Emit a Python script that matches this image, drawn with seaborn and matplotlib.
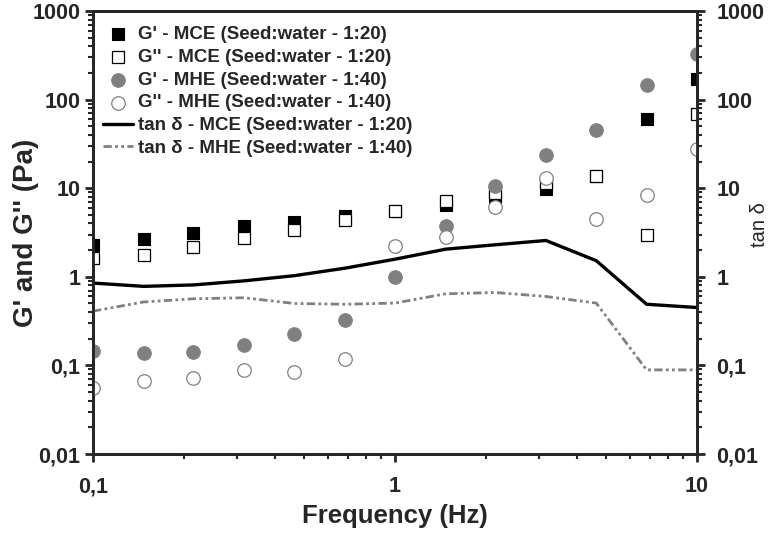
import numpy as np
import pandas as pd
import matplotlib
matplotlib.use("Agg")
import matplotlib.pyplot as plt
import seaborn as sns
from matplotlib.ticker import FixedLocator, FixedFormatter, NullFormatter, LogLocator

# frequency points (Hz)
freq = [0.1, 0.147, 0.215, 0.316, 0.464, 0.681, 1.0, 1.47, 2.15, 3.16, 4.64, 6.81, 10.0]

# moduli (Pa)
g1_mce = [2.3, 2.7, 3.1, 3.7, 4.2, 4.8, 5.5, 6.5, 7.9, 9.8, 13.6, 61, 171]
g2_mce = [1.63, 1.76, 2.16, 2.73, 3.39, 4.4, 5.56, 7.26, 8.8, 11.4, 13.6, 3.0, 68.6]
g1_mhe = [0.144, 0.138, 0.141, 0.171, 0.229, 0.327, 1.0, 3.7, 10.6, 23.8, 45.6, 148, 324]
g2_mhe = [0.0554, 0.0659, 0.0724, 0.0877, 0.0837, 0.119, 2.2, 2.78, 6.2, 13.0, 4.48, 8.3, 27.9]

# loss tangent
tan_mce = [0.85, 0.78, 0.81, 0.90, 1.03, 1.25, 1.58, 2.05, 2.3, 2.57, 1.52, 0.49, 0.45]
tan_mhe = [0.41, 0.52, 0.565, 0.58, 0.50, 0.49, 0.505, 0.643, 0.665, 0.60, 0.505, 0.089, 0.089]

labels = ["G' - MCE (Seed:water - 1:20)",
          "G'' - MCE (Seed:water - 1:20)",
          "G' - MHE (Seed:water - 1:40)",
          "G'' - MHE (Seed:water - 1:40)",
          "tan \u03b4 - MCE (Seed:water - 1:20)",
          "tan \u03b4 - MHE (Seed:water - 1:40)"]

x_ticks = [0.1, 1, 10]
x_tick_labels = ["0,1", "1", "10"]
y_ticks = [0.01, 0.1, 1, 10, 100, 1000]
y_tick_labels = ["0,01", "0,1", "1", "10", "100", "1000"]

sns.set_style("ticks")
plt.rcParams['font.family'] = ['Liberation Sans', 'DejaVu Sans']
plt.rcParams['axes.linewidth'] = 2.0

df = pd.DataFrame({'freq': freq, 'g1_mce': g1_mce, 'g2_mce': g2_mce,
                   'g1_mhe': g1_mhe, 'g2_mhe': g2_mhe,
                   'tan_mce': tan_mce, 'tan_mhe': tan_mhe})

fig, ax = plt.subplots(figsize=(7.74, 5.35), dpi=100)
fig.subplots_adjust(left=0.1202, right=0.9005, top=0.9794, bottom=0.1514)
ax2 = ax.twinx()

grey = '#808080'
sns.scatterplot(data=df, x='freq', y='g1_mce', ax=ax, marker='s', s=80,
                color='black', edgecolor='black', linewidth=0.8, label=labels[0], zorder=3)
sns.scatterplot(data=df, x='freq', y='g2_mce', ax=ax, marker='s', s=80,
                facecolor='white', edgecolor='black', linewidth=0.9, label=labels[1], zorder=4)
sns.scatterplot(data=df, x='freq', y='g1_mhe', ax=ax, marker='o', s=95,
                color=grey, edgecolor=grey, linewidth=0.8, label=labels[2], zorder=5)
sns.scatterplot(data=df, x='freq', y='g2_mhe', ax=ax, marker='o', s=95,
                facecolor='white', edgecolor=grey, linewidth=0.9, label=labels[3], zorder=6)

sns.lineplot(data=df, x='freq', y='tan_mce', ax=ax2, color='black', linewidth=2.4,
             label=labels[4])
sns.lineplot(data=df, x='freq', y='tan_mhe', ax=ax2, color=grey, linewidth=2.0,
             linestyle=(0, (3, 1.2, 1, 1.2, 1, 1.2)), label=labels[5])

for a in (ax, ax2):
    a.set_xscale('log')
    a.set_yscale('log')
    a.set_xlim(0.1, 10)
    a.set_ylim(0.01, 1000)
    a.yaxis.set_major_locator(FixedLocator(y_ticks))
    a.yaxis.set_major_formatter(FixedFormatter(y_tick_labels))
    a.yaxis.set_minor_locator(LogLocator(base=10, subs=np.arange(2, 10)))
    a.yaxis.set_minor_formatter(NullFormatter())
    a.tick_params(which='major', direction='out', length=6, width=2, labelsize=15.5, pad=3)
    a.tick_params(which='minor', direction='out', length=3.5, width=1.5)

ax.tick_params(axis='x', which='major', pad=10)
ax2.tick_params(axis='y', which='major', pad=8)

ax.xaxis.set_major_locator(FixedLocator(x_ticks))
ax.xaxis.set_major_formatter(FixedFormatter(x_tick_labels))
ax.xaxis.set_minor_locator(LogLocator(base=10, subs=np.arange(2, 10)))
ax.xaxis.set_minor_formatter(NullFormatter())
for lab in ax.get_xticklabels() + ax.get_yticklabels() + ax2.get_yticklabels():
    lab.set_fontweight('bold')

ax.set_xlabel('Frequency (Hz)', fontsize=18.5, fontweight='bold', labelpad=5)
ax.set_ylabel("G' and G'' (Pa)", fontsize=20, fontweight='bold')
ax.yaxis.set_label_coords(-0.09, 0.5)
ax2.set_ylabel('tan \u03b4', fontsize=14.5)
ax2.yaxis.set_label_coords(1.087, 0.517)
ax2.set_xlabel('')

h1, l1 = ax.get_legend_handles_labels()
h2, l2 = ax2.get_legend_handles_labels()
ax.get_legend().remove()
ax2.get_legend().remove()
ax2.legend(h1 + h2, l1 + l2, loc='upper left', bbox_to_anchor=(0.0166, 0.966), frameon=False,
           prop={'weight': 'bold', 'size': 13.5}, handlelength=1.6, handletextpad=0.27,
           labelspacing=0.3, borderaxespad=0.0, borderpad=0.0)

plt.savefig('out.png', dpi=100)
plt.close()
